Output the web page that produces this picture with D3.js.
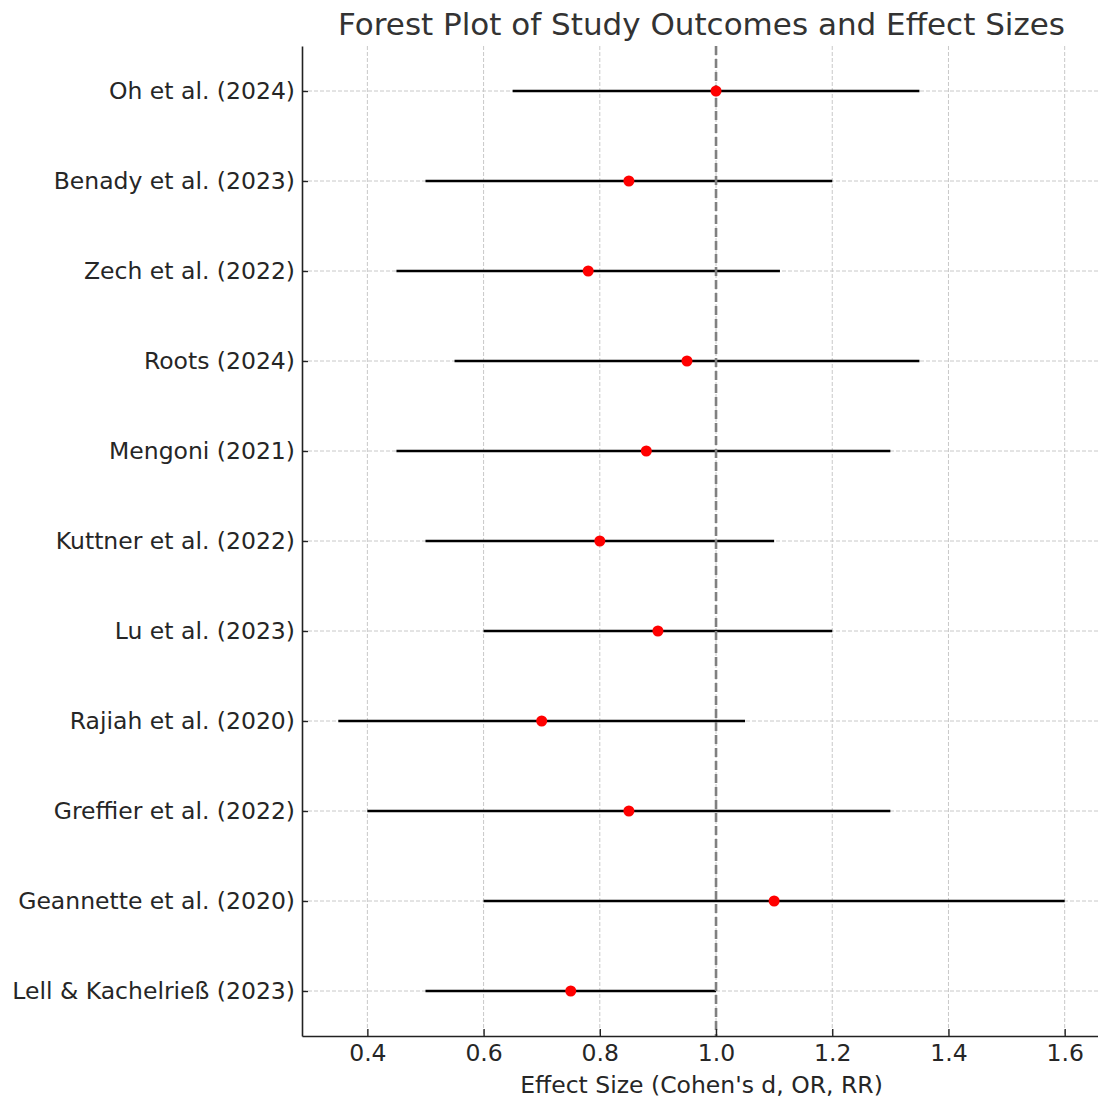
<!DOCTYPE html>
<html>
<head>
<meta charset="utf-8">
<script src="https://cdn.jsdelivr.net/npm/d3@7"></script>
<style>
  body { margin: 0; background: #fff; }
</style>
</head>
<body>
<div id="chart"></div>
<script>
// Studies, listed bottom to top as plotted
const studies = [
	"Lell & Kachelrieß (2023)",
	"Geannette et al. (2020)",
	"Greffier et al. (2022)",
	"Rajiah et al. (2020)",
	"Lu et al. (2023)",
	"Kuttner et al. (2022)",
	"Mengoni (2021)",
	"Roots (2024)",
	"Zech et al. (2022)",
	"Benady et al. (2023)",
	"Oh et al. (2024)",
];
const effects = [0.75, 1.1, 0.85, 0.7, 0.9, 0.8, 0.88, 0.95, 0.78, 0.85, 1.0];
const lower = [0.5, 0.6, 0.4, 0.35, 0.6, 0.5, 0.45, 0.55, 0.45, 0.5, 0.65];
const upper = [1.0, 1.6, 1.3, 1.05, 1.2, 1.1, 1.3, 1.35, 1.11, 1.2, 1.35];
const xTicks = [0.4, 0.6, 0.8, 1.0, 1.2, 1.4, 1.6];

const width = 1098,
	height = 1099;
const margin = { left: 302, right: -3, top: 46, bottom: 63 };
const font = "DejaVu Sans, sans-serif";
const textColor = "#262626";
const tickFont = 23.5;

const data = studies.map((s, i) => ({
	study: s,
	idx: i,
	effect: effects[i],
	lo: lower[i],
	hi: upper[i],
}));

// matplotlib-like 5% padding on both axes
const xMin = d3.min(lower),
	xMax = d3.max(upper);
const xPad = (xMax - xMin) * 0.05;
const x = d3
	.scaleLinear()
	.domain([xMin - xPad, xMax + xPad])
	.range([margin.left, width - margin.right]);

const y = d3
	.scaleLinear()
	.domain([-0.5, studies.length - 0.5])
	.range([height - margin.bottom, margin.top]);

const svg = d3
	.select("#chart")
	.append("svg")
	.attr("width", width)
	.attr("height", height)
	.attr("font-family", font);

// Grid lines
svg.append("g")
	.selectAll("line")
	.data(xTicks)
	.join("line")
	.attr("x1", (d) => x(d))
	.attr("x2", (d) => x(d))
	.attr("y1", margin.top)
	.attr("y2", height - margin.bottom)
	.attr("stroke", "#c8c8c8")
	.attr("stroke-width", 1)
	.attr("stroke-dasharray", "4,2");

svg.append("g")
	.selectAll("line")
	.data(data)
	.join("line")
	.attr("x1", margin.left)
	.attr("x2", width)
	.attr("y1", (d) => y(d.idx))
	.attr("y2", (d) => y(d.idx))
	.attr("stroke", "#c8c8c8")
	.attr("stroke-width", 1)
	.attr("stroke-dasharray", "4,2");

// Confidence interval lines
svg.append("g")
	.selectAll("line")
	.data(data)
	.join("line")
	.attr("x1", (d) => x(d.lo))
	.attr("x2", (d) => x(d.hi))
	.attr("y1", (d) => y(d.idx))
	.attr("y2", (d) => y(d.idx))
	.attr("stroke", "#000")
	.attr("stroke-width", 2.6);

// Reference line at 1.0
svg.append("line")
	.attr("x1", x(1))
	.attr("x2", x(1))
	.attr("y1", margin.top)
	.attr("y2", height - margin.bottom)
	.attr("stroke", "#808080")
	.attr("stroke-width", 2.6)
	.attr("stroke-dasharray", "9,4");

// Effect size points
svg.append("g")
	.selectAll("circle")
	.data(data)
	.join("circle")
	.attr("cx", (d) => x(d.effect))
	.attr("cy", (d) => y(d.idx))
	.attr("r", 5.5)
	.attr("fill", "#ff0000");

// Axes
const xAxis = svg
	.append("g")
	.attr("transform", `translate(0,${height - margin.bottom})`)
	.call(
		d3
			.axisBottom(x)
			.tickValues(xTicks)
			.tickFormat(d3.format(".1f"))
			.tickSize(-7)
			.tickPadding(8)
			.tickSizeOuter(0)
	);

const yAxis = svg
	.append("g")
	.attr("transform", `translate(${margin.left},0)`)
	.call(
		d3
			.axisLeft(y)
			.tickValues(d3.range(studies.length))
			.tickFormat((i) => studies[i])
			.tickSize(-6)
			.tickPadding(7)
			.tickSizeOuter(0)
	);

[xAxis, yAxis].forEach((g) => {
	g.select(".domain").attr("stroke", "#222").attr("stroke-width", 1.6);
	g.selectAll(".tick line").attr("stroke", "#222").attr("stroke-width", 1.4);
	g.selectAll(".tick text")
		.attr("font-size", tickFont)
		.attr("font-family", font)
		.attr("fill", textColor);
});

// Axis label
svg.append("text")
	.attr("x", (margin.left + width - margin.right) / 2)
	.attr("y", 1093)
	.attr("text-anchor", "middle")
	.attr("font-size", tickFont)
	.attr("fill", textColor)
	.text("Effect Size (Cohen's d, OR, RR)");

// Title
svg.append("text")
	.attr("x", (margin.left + width - margin.right) / 2)
	.attr("y", 35)
	.attr("text-anchor", "middle")
	.attr("font-size", 31)
	.attr("fill", "#333")
	.text("Forest Plot of Study Outcomes and Effect Sizes");
</script>
</body>
</html>
